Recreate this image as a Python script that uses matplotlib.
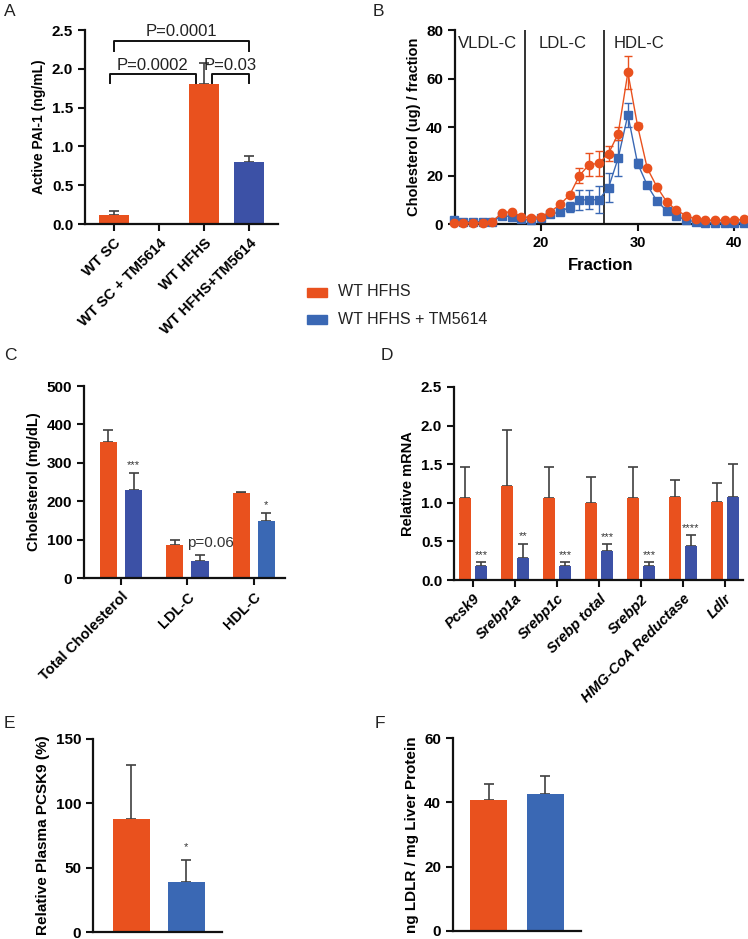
import matplotlib
matplotlib.use("Agg")
import matplotlib.pyplot as plt
import numpy as np
from matplotlib.patches import Rectangle

plt.rcParams['font.family'] = ['Liberation Sans', 'DejaVu Sans']

ORANGE = '#E9511E'
BLUE_D = '#3C51A6'
BLUE_L = '#3A68B4'
ERR = '#404040'

# ---- Data ----
# Panel A
a_groups = ['WT SC', 'WT SC + TM5614', 'WT HFHS', 'WT HFHS+TM5614']
a_vals = [0.11, 0.0, 1.80, 0.80]
a_err = [0.06, 0.0, 0.28, 0.08]

# Panel B
b_frac = list(range(11, 42))
b_hfhs = [0.5, 0.5, 0.5, 0.5, 1.0, 4.6, 5.1, 3.0, 2.5, 3.0, 5.0, 8.1, 12.0, 20.0, 24.5,
          25.0, 29.0, 37.3, 62.5, 40.5, 23.0, 15.3, 9.2, 5.7, 3.5, 2.0, 1.5, 1.5, 1.5, 1.5, 2.0]
b_hfhs_err = [0, 0, 0, 0, 0, 0, 0, 0, 0, 0, 0, 0, 1.0, 3.0, 4.8,
              5.0, 3.0, 2.8, 6.7, 1.0, 0, 0, 0, 0, 0, 0, 0, 0, 0, 0, 0]
b_tm = [1.5, 1.0, 1.0, 1.0, 1.0, 3.5, 3.0, 2.0, 1.5, 2.5, 4.0, 5.0, 7.0, 9.9, 10.0,
        10.0, 15.0, 27.2, 45.0, 25.0, 16.0, 9.5, 5.5, 3.5, 1.5, 1.0, 0.5, 0.5, 0.5, 0.5, 0.5]
b_tm_err = [0, 0, 0, 0, 0, 0, 0, 0, 0, 0, 0, 0, 2.0, 4.0, 4.0,
            5.5, 6.0, 7.5, 5.0, 2.0, 0, 0, 0, 0, 0, 0, 0, 0, 0, 0, 0]
b_regions = ['VLDL-C', 'LDL-C', 'HDL-C']
b_region_x = [14.5, 22.3, 30.2]
b_bounds = [18.4, 26.5]

# Panel C
c_groups = ['Total Cholesterol', 'LDL-C', 'HDL-C']
c_hfhs = [355, 86, 221]
c_hfhs_err = [30, 12, 4]
c_tm = [228, 44, 148]
c_tm_err = [45, 17, 21]
c_sig = ['***', 'p=0.06', '*']

# Panel D
d_genes = ['Pcsk9', 'Srebp1a', 'Srebp1c', 'Srebp total', 'Srebp2', 'HMG-CoA Reductase', 'Ldlr']
d_hfhs = [1.06, 1.22, 1.06, 1.00, 1.06, 1.07, 1.01]
d_hfhs_err = [0.40, 0.72, 0.40, 0.34, 0.40, 0.22, 0.24]
d_tm = [0.18, 0.29, 0.18, 0.38, 0.18, 0.44, 1.07]
d_tm_err = [0.05, 0.18, 0.05, 0.08, 0.05, 0.14, 0.43]
d_sig = ['***', '**', '***', '***', '***', '****', '']

# Panel E
e_vals = [88, 39]
e_err = [42, 17]
e_sig = ['', '*']

# Panel F
f_vals = [40.7, 42.5]
f_err = [5.0, 5.7]

legend_labels = ['WT HFHS', 'WT HFHS + TM5614']

W, H = 748, 939
fig = plt.figure(figsize=(W / 100, H / 100), dpi=100)


def add_ax(l, r, t, b):
    return fig.add_axes([l / W, 1 - b / H, (r - l) / W, (b - t) / H])


def style(ax):
    for s in ['top', 'right']:
        ax.spines[s].set_visible(False)
    for s in ['left', 'bottom']:
        ax.spines[s].set_linewidth(1.6)
        ax.spines[s].set_color('#111111')
    ax.tick_params(width=1.5, length=5, labelsize=11, color='#111111')
    ax.tick_params(axis='x', labelsize=10.5)
    for lab in ax.get_yticklabels() + ax.get_xticklabels():
        lab.set_fontweight('bold')


def bars(ax, x, vals, errs, color, width):
    ax.bar(x, vals, width=width, color=color, zorder=2)
    ax.errorbar(x, vals, yerr=[np.zeros(len(errs)), errs], fmt='none', ecolor=ERR,
                elinewidth=1.2, capsize=3.5, capthick=1.2, zorder=1)


# ---- Panel A ----
axA = add_ax(85, 278, 30, 224)
xa = np.arange(len(a_groups))
colsA = [ORANGE, BLUE_D, ORANGE, BLUE_D]
for i in range(len(a_groups)):
    if a_vals[i] > 0:
        bars(axA, [xa[i]], [a_vals[i]], [a_err[i]], colsA[i], 0.65)
axA.set_xlim(-0.64, 3.64)
axA.set_ylim(0, 2.5)
axA.set_yticks([0, 0.5, 1.0, 1.5, 2.0, 2.5])
axA.set_yticklabels(['0.0', '0.5', '1.0', '1.5', '2.0', '2.5'])
axA.set_xticks(xa)
axA.set_xticklabels(a_groups, rotation=45, ha='right', rotation_mode='anchor')
axA.set_ylabel('Active PAI-1 (ng/mL)', fontsize=10, fontweight='bold', labelpad=4)
style(axA)


def bracket(ax, x1, x2, y, h, text):
    ax.plot([x1, x1, x2, x2], [y - h, y, y, y - h], color='#111111', lw=1.4, clip_on=False)
    ax.text((x1 + x2) / 2, y + 0.02, text, ha='center', va='bottom', fontsize=12, color='#222222')


bracket(axA, 0.0, 3.0, 2.36, 0.13, 'P=0.0001')
bracket(axA, -0.09, 1.82, 1.93, 0.11, 'P=0.0002')
bracket(axA, 2.17, 3.0, 1.93, 0.11, 'P=0.03')

# ---- Panel B ----
axB = add_ax(455, 747, 30, 224)
axB.errorbar(b_frac, b_tm, yerr=b_tm_err, color=BLUE_L, marker='s', ms=5.5, lw=1.0,
             capsize=3, elinewidth=1.0, clip_on=False, zorder=3)
axB.errorbar(b_frac, b_hfhs, yerr=b_hfhs_err, color=ORANGE, marker='o', ms=6, lw=1.0,
             capsize=3, elinewidth=1.0, clip_on=False, zorder=4)
for xb in b_bounds:
    axB.axvline(xb, color='#111111', lw=1.2, zorder=2)
for xr, r in zip(b_region_x, b_regions):
    axB.text(xr, 74.5, r, ha='center', va='center', fontsize=12, color='#222222')
axB.set_xlim(11.15, 41.3)
axB.set_ylim(0, 80)
axB.set_xticks([20, 30, 40])
axB.set_yticks([0, 20, 40, 60, 80])
axB.set_xlabel('Fraction', fontsize=12, fontweight='bold', labelpad=6)
axB.set_ylabel('Cholesterol (ug) / fraction', fontsize=10.5, fontweight='bold', labelpad=4)
style(axB)

# ---- Legend ----
for j, (lab, col) in enumerate(zip(legend_labels, [ORANGE, BLUE_L])):
    yc = 292 + j * 27
    fig.patches.append(Rectangle((307 / W, 1 - (yc + 4.5) / H), 20 / W, 9 / H,
                                 transform=fig.transFigure, color=col))
    fig.text(338 / W, 1 - yc / H, lab, fontsize=11.5, va='center', ha='left', color='#222222')

# ---- Panel C ----
axC = add_ax(84, 285, 386, 578)
xc = np.arange(len(c_groups))
bars(axC, xc - 0.19, c_hfhs, c_hfhs_err, ORANGE, 0.26)
colsC = [BLUE_D, BLUE_D, BLUE_L]
for i in range(len(c_groups)):
    bars(axC, [xc[i] + 0.19], [c_tm[i]], [c_tm_err[i]], colsC[i], 0.26)
axC.text(xc[0] + 0.19, c_tm[0] + c_tm_err[0] + 8, c_sig[0], ha='center', va='bottom', fontsize=8, color='#333333')
axC.text(xc[1] - 0.01, 91, c_sig[1], ha='left', va='center', fontsize=11, color='#333333')
axC.text(xc[2] + 0.19, c_tm[2] + c_tm_err[2] + 8, c_sig[2], ha='center', va='bottom', fontsize=8, color='#333333')
axC.set_xlim(-0.556, 2.47)
axC.set_ylim(0, 500)
axC.set_yticks([0, 100, 200, 300, 400, 500])
axC.set_xticks(xc)
axC.set_xticklabels(c_groups, rotation=45, ha='right', rotation_mode='anchor')
axC.set_ylabel('Cholesterol (mg/dL)', fontsize=10.5, fontweight='bold', labelpad=4)
style(axC)

# ---- Panel D ----
axD = add_ax(454, 743, 387, 580)
xd = np.arange(len(d_genes))
bars(axD, xd - 0.19, d_hfhs, d_hfhs_err, ORANGE, 0.27)
bars(axD, xd + 0.19, d_tm, d_tm_err, BLUE_D, 0.27)
for i, s in enumerate(d_sig):
    if s:
        axD.text(xd[i] + 0.19, d_tm[i] + d_tm_err[i] + 0.03, s, ha='center', va='bottom', fontsize=8, color='#333333')
axD.set_xlim(-0.45, 6.43)
axD.set_ylim(0, 2.5)
axD.set_yticks([0, 0.5, 1.0, 1.5, 2.0, 2.5])
axD.set_yticklabels(['0.0', '0.5', '1.0', '1.5', '2.0', '2.5'])
axD.set_xticks(xd)
axD.set_xticklabels(d_genes, rotation=45, ha='right', rotation_mode='anchor')
axD.set_ylabel('Relative mRNA', fontsize=10.5, fontweight='bold', labelpad=4)
style(axD)
for lab in axD.get_xticklabels():
    lab.set_fontstyle('italic')

# ---- Panel E ----
axE = add_ax(93, 222, 739, 932)
bars(axE, [0, 1], e_vals, e_err, [ORANGE, BLUE_L], 0.67)
axE.text(1, e_vals[1] + e_err[1] + 6, e_sig[1], ha='center', va='bottom', fontsize=8, color='#333333')
axE.set_xlim(-0.69, 1.65)
axE.set_ylim(0, 150)
axE.set_yticks([0, 50, 100, 150])
axE.set_xticks([])
axE.set_ylabel('Relative Plasma PCSK9 (%)', fontsize=11, fontweight='bold', labelpad=4)
style(axE)

# ---- Panel F ----
axF = add_ax(453, 581, 738, 931)
bars(axF, [0, 1], f_vals, f_err, [ORANGE, BLUE_L], 0.66)
axF.set_xlim(-0.64, 1.64)
axF.set_ylim(0, 60)
axF.set_yticks([0, 20, 40, 60])
axF.set_xticks([])
axF.set_ylabel('ng LDLR / mg Liver Protein', fontsize=11, fontweight='bold', labelpad=4)
style(axF)

# ---- Panel letters ----
for letter, (x, y) in zip('ABCDEF', [(4, 12), (373, 12), (4, 356), (381, 356), (4, 723), (375, 723)]):
    fig.text(x / W, 1 - y / H, letter, fontsize=12.5, va='center', ha='left', color='#222222')

fig.savefig('out.png', dpi=100)
